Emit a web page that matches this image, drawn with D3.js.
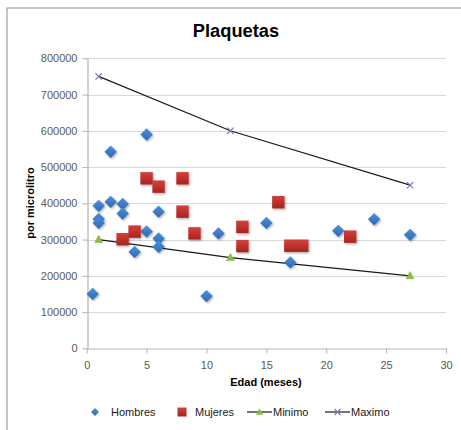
<!DOCTYPE html>
<html>
<head>
<meta charset="utf-8">
<script src="https://cdn.jsdelivr.net/npm/d3@7"></script>
<style>
  html, body { margin: 0; padding: 0; background: #fff; }
  svg { display: block; font-family: "Liberation Sans", Arial, sans-serif; }
</style>
</head>
<body>
<svg id="chart" width="461" height="430"></svg>
<script>
// Platelet counts by age (months)
const hombresEdad  = [1, 1, 1, 0.5, 2, 2, 3, 3, 4, 5, 5, 6, 6, 6, 10, 11, 15, 17, 21, 24, 27];
const hombresValor = [393000, 357000, 346000, 150000, 542000, 404000, 398000, 372000, 266000, 590000, 322000, 377000, 303000, 280000, 144000, 317000, 346000, 237000, 324000, 356000, 313000];

const mujeresEdad  = [3, 4, 5, 6, 8, 8, 9, 13, 13, 16, 17, 18, 22];
const mujeresValor = [301000, 322000, 469000, 446000, 469000, 377000, 317000, 335000, 282000, 403000, 283000, 283000, 308000];

const minimoEdad  = [1, 12, 27];
const minimoValor = [300000, 250000, 200000];

const maximoEdad  = [1, 12, 27];
const maximoValor = [750000, 600000, 450000];

const xTicks = [0, 5, 10, 15, 20, 25, 30];
const yTicks = [0, 100000, 200000, 300000, 400000, 500000, 600000, 700000, 800000];

const zip = (a, b) => a.map((v, i) => ({ x: v, y: b[i] }));

const svg = d3.select("#chart");

const x = d3.scaleLinear().domain([0, 30]).range([86.7, 446]);
const y = d3.scaleLinear().domain([0, 800000]).range([348.3, 58.3]);

// gradients for the markers
const defs = svg.append("defs");
function grad(id, light, dark) {
  const g = defs.append("linearGradient").attr("id", id)
    .attr("x1", 0).attr("y1", 0).attr("x2", 0).attr("y2", 1);
  g.append("stop").attr("offset", "0%").attr("stop-color", light);
  g.append("stop").attr("offset", "100%").attr("stop-color", dark);
}
grad("gBlue", "#4d8fdc", "#2f68b4");
grad("gRed", "#d4403b", "#a8231f");
const f = defs.append("filter").attr("id", "shadow")
  .attr("x", "-50%").attr("y", "-50%").attr("width", "200%").attr("height", "200%");
f.append("feDropShadow").attr("dx", 1).attr("dy", 1.2).attr("stdDeviation", 0.9)
  .attr("flood-color", "#000").attr("flood-opacity", 0.35);

// chart frame
svg.append("rect").attr("x", 7).attr("y", 8).attr("width", 470).attr("height", 440)
  .attr("fill", "none").attr("stroke", "#8c8c8c").attr("stroke-width", 1);

// title
svg.append("text").attr("x", 236).attr("y", 37).attr("text-anchor", "middle")
  .attr("font-weight", "bold").attr("font-size", 18.3).attr("fill", "#000")
  .text("Plaquetas");

// gridlines
svg.append("g").selectAll("line").data(yTicks.filter(d => d > 0)).join("line")
  .attr("x1", x(0)).attr("x2", x(30))
  .attr("y1", d => Math.round(y(d)) + 0.5).attr("y2", d => Math.round(y(d)) + 0.5)
  .attr("stroke", "#d9d9d9").attr("stroke-width", 1.2);

// axes
const yAxis = d3.axisLeft(y).tickValues(yTicks).tickFormat(d3.format("d"))
  .tickSizeInner(5).tickSizeOuter(0).tickPadding(5);
const gy = svg.append("g").attr("transform", `translate(${Math.round(x(0)) + 0.5},0)`).call(yAxis);

const xAxis = d3.axisBottom(x).tickValues(xTicks).tickFormat(d3.format("d"))
  .tickSizeInner(5).tickSizeOuter(0).tickPadding(8);
const gx = svg.append("g").attr("transform", `translate(0,${Math.round(y(0)) + 0.5})`).call(xAxis);

[gx, gy].forEach(g => {
  g.select(".domain").attr("stroke", "#b3b3b3").attr("stroke-width", 1.2);
  g.selectAll(".tick line").attr("stroke", "#b3b3b3");
  g.selectAll(".tick text").attr("font-size", 11).attr("fill", "#595959")
    .attr("font-family", "'Liberation Sans', Arial, sans-serif");
});

// axis titles
svg.append("text").attr("x", 266).attr("y", 386)
  .attr("text-anchor", "middle").attr("font-weight", "bold").attr("font-size", 11)
  .attr("fill", "#000").text("Edad (meses)");
svg.append("text").attr("transform", "translate(34,203) rotate(-90)")
  .attr("text-anchor", "middle").attr("font-weight", "bold").attr("font-size", 11)
  .attr("fill", "#000").text("por microlitro");

// reference lines
const line = d3.line().x(d => x(d.x)).y(d => y(d.y));
const minimo = zip(minimoEdad, minimoValor);
const maximo = zip(maximoEdad, maximoValor);
[minimo, maximo].forEach(data => {
  svg.append("path").datum(data).attr("d", line)
    .attr("fill", "none").attr("stroke", "#1a1a1a").attr("stroke-width", 1.2);
});

// marker shapes
const diamond = s => `M0,${-s}L${s},0L0,${s}L${-s},0Z`;
const square = s => `M${-s},${-s}H${s}V${s}H${-s}Z`;
const triangle = s => `M0,${-s}L${s * 0.95},${s * 0.7}L${-s * 0.95},${s * 0.7}Z`;

// Hombres
svg.append("g").selectAll("path").data(zip(hombresEdad, hombresValor)).join("path")
  .attr("transform", d => `translate(${x(d.x)},${y(d.y)})`)
  .attr("d", diamond(6.2)).attr("fill", "url(#gBlue)").attr("filter", "url(#shadow)");

// Mujeres
svg.append("g").selectAll("path").data(zip(mujeresEdad, mujeresValor)).join("path")
  .attr("transform", d => `translate(${x(d.x)},${y(d.y)})`)
  .attr("d", square(6.2)).attr("fill", "url(#gRed)").attr("filter", "url(#shadow)");

// Minimo markers
svg.append("g").selectAll("path").data(minimo).join("path")
  .attr("transform", d => `translate(${x(d.x)},${y(d.y)})`)
  .attr("d", triangle(4.2)).attr("fill", "#8cbf3f").attr("stroke", "#7aa832").attr("stroke-width", 0.5);

// Maximo markers
const cross = s => `M${-s},${-s}L${s},${s}M${-s},${s}L${s},${-s}`;
svg.append("g").selectAll("path").data(maximo).join("path")
  .attr("transform", d => `translate(${x(d.x)},${y(d.y)})`)
  .attr("d", cross(3.2)).attr("fill", "none").attr("stroke", "#8f6fc4").attr("stroke-width", 1.2);

// legend
const ly = 412;
const lg = svg.append("g").attr("font-size", 11).attr("fill", "#1a1a1a");
lg.append("path").attr("transform", `translate(95,${ly})`).attr("d", diamond(4)).attr("fill", "url(#gBlue)");
lg.append("text").attr("x", 111).attr("y", ly + 4).text("Hombres");
lg.append("path").attr("transform", `translate(182,${ly})`).attr("d", square(4.5)).attr("fill", "url(#gRed)");
lg.append("text").attr("x", 195).attr("y", ly + 4).text("Mujeres");
lg.append("line").attr("x1", 247).attr("x2", 272).attr("y1", ly).attr("y2", ly)
  .attr("stroke", "#1a1a1a").attr("stroke-width", 1.2);
lg.append("path").attr("transform", `translate(259.5,${ly})`).attr("d", triangle(3.8)).attr("fill", "#8cbf3f");
lg.append("text").attr("x", 273).attr("y", ly + 4).text("Minimo");
lg.append("line").attr("x1", 325).attr("x2", 350).attr("y1", ly).attr("y2", ly)
  .attr("stroke", "#1a1a1a").attr("stroke-width", 1.2);
lg.append("path").attr("transform", `translate(337.5,${ly})`).attr("d", cross(3)).attr("fill", "none")
  .attr("stroke", "#8f6fc4").attr("stroke-width", 1.2);
lg.append("text").attr("x", 351).attr("y", ly + 4).text("Maximo");
</script>
</body>
</html>
